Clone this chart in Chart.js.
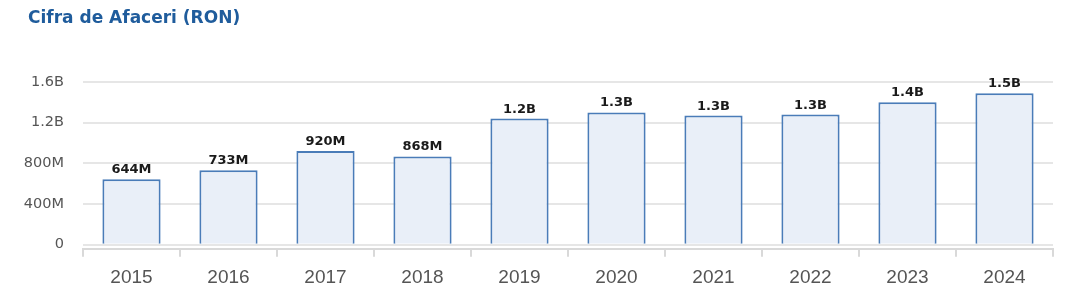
<!DOCTYPE html>
<html>
<head>
<meta charset="utf-8">
<script src="https://cdn.jsdelivr.net/npm/chart.js@4.4.1/dist/chart.umd.min.js"></script>
<style>
html,body{margin:0;padding:0;background:#fff;}
#wrap{width:1071px;height:304px;position:relative;}
</style>
</head>
<body>
<div id="wrap"><canvas id="c" width="1071" height="304"></canvas></div>
<script>
const categories = ['2015','2016','2017','2018','2019','2020','2021','2022','2023','2024'];
const revenue = [644e6, 733e6, 920e6, 868e6, 1.24e9, 1.30e9, 1.27e9, 1.28e9, 1.40e9, 1.49e9];
const valueLabels = ['644M','733M','920M','868M','1.2B','1.3B','1.3B','1.3B','1.4B','1.5B'];
const yTicks = [0, 400e6, 800e6, 1.2e9, 1.6e9];
const yTickLabels = ['0','400M','800M','1.2B','1.6B'];
const titleText = 'Cifra de Afaceri (RON)';

const labelPlugin = {
  id: 'valueLabels',
  afterDatasetsDraw(chart) {
    const ctx = chart.ctx;
    const meta = chart.getDatasetMeta(0);
    ctx.save();
    ctx.font = 'bold 13px "DejaVu Sans", sans-serif';
    ctx.fillStyle = '#1a1a1a';
    ctx.textAlign = 'center';
    ctx.textBaseline = 'alphabetic';
    meta.data.forEach((bar, i) => {
      ctx.fillText(valueLabels[i], bar.x, bar.y - 6);
    });
    ctx.restore();
  }
};

const titlePlugin = {
  id: 'leftTitle',
  afterDraw(chart) {
    const ctx = chart.ctx;
    ctx.save();
    ctx.font = 'bold 17px "DejaVu Sans", sans-serif';
    ctx.fillStyle = '#1f5c9c';
    ctx.textAlign = 'left';
    ctx.textBaseline = 'middle';
    ctx.fillText(titleText, 28, 19);
    ctx.restore();
  }
};

new Chart(document.getElementById('c'), {
  type: 'bar',
  data: {
    labels: categories,
    datasets: [{
      data: revenue,
      backgroundColor: '#e9eff8',
      borderColor: '#4a7cb8',
      borderWidth: 2,
      borderSkipped: 'bottom',
      categoryPercentage: 1.0,
      barPercentage: 0.6
    }]
  },
  options: {
    responsive: false,
    animation: false,
    devicePixelRatio: 1,
    layout: { padding: { left: 0, right: 18, top: 82, bottom: 5.5 } },
    plugins: {
      legend: { display: false },
      tooltip: { enabled: false },
      title: { display: false }
    },
    scales: {
      x: {
        offset: true,
        grid: { offset: true, drawOnChartArea: false, drawTicks: true, tickLength: 8, color: '#d9d9d9', lineWidth: 2 },
        border: { display: true, color: '#d9d9d9', width: 2 },
        ticks: { color: '#555555', padding: 9.5, font: { family: '"Liberation Sans", Arial, sans-serif', size: 19 } }
      },
      y: {
        min: -40e6,
        max: 1.6e9,
        afterBuildTicks(scale) { scale.ticks = yTicks.map(v => ({ value: v })); },
        afterFit(scale) { scale.width = 83; },
        grid: { drawTicks: false, color: '#e6e6e6', lineWidth: 2 },
        border: { display: false },
        ticks: {
          color: '#555555',
          padding: 19,
          font: { family: '"DejaVu Sans", sans-serif', size: 14.5 },
          callback(value) { const i = yTicks.indexOf(value); return i >= 0 ? yTickLabels[i] : ''; }
        }
      }
    }
  },
  plugins: [labelPlugin, titlePlugin]
});
</script>
</body>
</html>
